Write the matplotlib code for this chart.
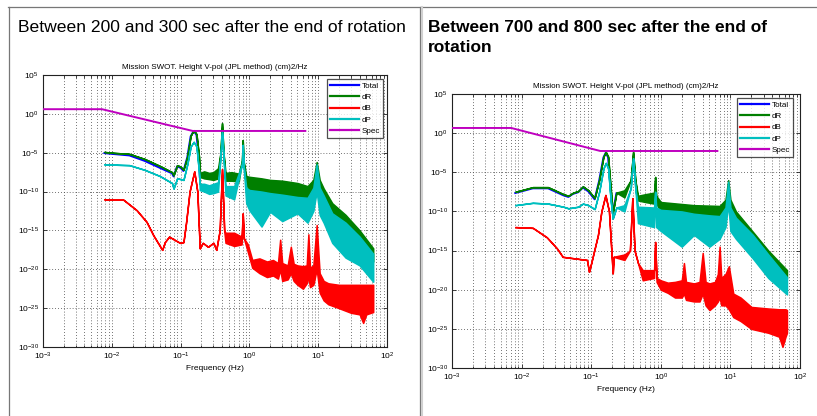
import numpy as np
import matplotlib
matplotlib.use("Agg")
from matplotlib import pyplot as plt
from matplotlib.lines import Line2D
from matplotlib.ticker import FixedLocator, LogLocator, NullLocator, NullFormatter

plt.rcParams['font.family'] = ['Liberation Sans', 'DejaVu Sans']
plt.rcParams['mathtext.fontset'] = 'custom'
plt.rcParams['mathtext.rm'] = 'Liberation Sans'
plt.rcParams['mathtext.it'] = 'Liberation Sans:italic'

# values are log10 of the PSD, frequencies in Hz; hi/lo = band envelope
# ---------- left panel: 200-300 s ----------
L_spec_f = [0.001, 0.0072, 0.15, 6.5]
L_spec = [0.6, 0.6, -2.2, -2.2]

# Total only shows where it peeks out under dR (low frequencies)
L_tot_f = [0.0078, 0.010, 0.018, 0.03, 0.05, 0.075, 0.079, 0.089, 0.10, 0.11, 0.125, 0.14, 0.155, 0.17, 0.185, 0.19]
L_tot = [-5.05, -5.15, -5.35, -6.05, -6.95, -7.65, -8.05, -6.75, -6.95, -7.35, -5.6, -2.9, -2.2, -2.7, -5.6, -8.1]

L_dR_f = [0.0078, 0.010, 0.018, 0.03, 0.05, 0.075, 0.079, 0.089, 0.10, 0.11, 0.125, 0.14, 0.155, 0.17, 0.185, 0.19, 0.22, 0.26, 0.30, 0.35, 0.38, 0.40, 0.42, 0.45, 0.55, 0.7, 0.78, 0.80, 0.82, 0.9, 1.0, 1.5, 2.0, 3.0, 5.0, 7.0, 8.5, 9.5, 10.5, 12.0, 16.0, 25.0, 40.0, 63.0]
L_dR_hi = [-4.9, -5.0, -5.15, -5.8, -6.7, -7.5, -7.9, -6.6, -6.8, -7.2, -5.5, -2.8, -2.1, -2.6, -5.5, -7.6, -7.4, -7.6, -7.5, -7.0, -5.0, -1.2, -5.0, -7.6, -7.5, -7.7, -6.0, -3.4, -6.0, -8.0, -8.1, -8.3, -8.5, -8.6, -8.9, -9.3, -8.5, -6.2, -8.5, -9.6, -11.5, -13.0, -15.0, -17.3]
L_dR_lo = [-4.9, -5.0, -5.15, -5.8, -6.7, -7.5, -7.9, -6.6, -6.8, -7.2, -5.5, -2.8, -2.1, -2.6, -5.5, -8.1, -8.3, -8.4, -8.5, -8.3, -5.0, -1.2, -5.0, -8.6, -8.6, -8.7, -6.0, -3.4, -6.0, -9.0, -10.0, -10.3, -10.5, -10.6, -10.8, -11.0, -10.0, -8.0, -10.5, -11.5, -13.0, -15.0, -17.0, -19.0]

L_dB_f = [0.0078, 0.0145, 0.023, 0.032, 0.040, 0.054, 0.059, 0.068, 0.098, 0.11, 0.12, 0.135, 0.158, 0.175, 0.19, 0.21, 0.25, 0.30, 0.33, 0.37, 0.40, 0.43, 0.45, 0.60, 0.77, 0.80, 0.83, 0.95, 1.1, 1.4, 1.8, 2.2, 2.6, 2.8, 3.0, 3.6, 4.0, 4.4, 5.0, 6.0, 6.8, 7.2, 7.6, 8.5, 9.5, 10.5, 12.0, 14.0, 20.0, 30.0, 40.0, 45.0, 50.0, 63.0]
L_dB_hi = [-11.0, -11.0, -12.4, -13.9, -15.6, -17.5, -16.5, -15.8, -16.6, -16.5, -14.0, -10.0, -7.4, -10.0, -17.3, -16.6, -17.1, -16.6, -17.5, -15.0, -7.1, -15.0, -15.3, -15.3, -15.8, -12.8, -16.0, -16.8, -18.8, -18.6, -19.0, -18.8, -19.2, -16.2, -19.2, -19.5, -17.1, -19.3, -19.5, -19.6, -19.5, -15.5, -19.8, -19.5, -14.3, -20.5, -21.5, -21.8, -22.0, -22.0, -22.0, -22.0, -22.0, -22.0]
L_dB_lo = [-11.0, -11.0, -12.4, -13.9, -15.6, -17.5, -16.5, -15.8, -16.6, -16.5, -14.0, -10.0, -7.4, -10.0, -17.3, -16.6, -17.1, -16.6, -17.5, -15.0, -7.1, -15.0, -16.6, -17.0, -16.8, -12.8, -16.0, -17.8, -19.8, -20.5, -21.0, -20.8, -21.2, -20.0, -21.5, -21.3, -20.5, -21.5, -22.0, -22.5, -21.8, -21.0, -22.3, -22.0, -20.0, -23.0, -24.0, -24.5, -25.0, -25.6, -25.8, -26.9, -25.8, -25.5]

L_dP_f = [0.0078, 0.018, 0.03, 0.05, 0.075, 0.079, 0.089, 0.10, 0.11, 0.125, 0.14, 0.155, 0.17, 0.185, 0.19, 0.22, 0.26, 0.30, 0.35, 0.38, 0.40, 0.42, 0.45, 0.60, 0.78, 0.80, 0.82, 0.9, 1.0, 1.5, 2.0, 3.0, 5.0, 7.0, 8.5, 9.5, 10.5, 12.0, 16.0, 25.0, 40.0, 63.0]
L_dP_hi = [-6.5, -6.6, -7.2, -8.0, -8.9, -9.6, -8.3, -8.4, -8.5, -6.5, -4.2, -3.6, -4.2, -7.5, -9.0, -9.0, -9.2, -9.0, -8.8, -5.5, -2.3, -5.5, -9.3, -9.3, -6.5, -4.0, -6.5, -9.5, -9.8, -10.0, -10.2, -10.4, -10.7, -10.8, -9.5, -6.5, -9.5, -10.5, -12.8, -14.0, -15.8, -18.0]
L_dP_lo = [-6.5, -6.6, -7.2, -8.0, -8.9, -9.6, -8.3, -8.4, -8.5, -6.5, -4.2, -3.6, -4.2, -7.5, -9.8, -10.0, -10.3, -10.2, -10.0, -5.5, -2.3, -5.5, -10.5, -11.0, -6.5, -4.0, -6.5, -11.5, -12.4, -14.5, -12.6, -13.8, -12.8, -14.0, -12.5, -10.0, -13.0, -14.0, -16.6, -18.5, -19.5, -21.6]

# ---------- right panel: 700-800 s ----------
R_spec_f = [0.001, 0.0071, 0.135, 6.5]
R_spec = [0.66, 0.66, -2.28, -2.28]

R_tot_f = [0.0081, 0.0145, 0.024, 0.040, 0.047, 0.055, 0.065, 0.076, 0.091, 0.112, 0.13, 0.15, 0.162, 0.175, 0.19, 0.204, 0.23]
R_tot = [-7.65, -7.05, -7.05, -7.95, -8.15, -7.75, -7.55, -6.95, -7.45, -8.45, -6.1, -3.1, -2.5, -3.1, -7.1, -10.3, -7.7]

R_dR_f = [0.0081, 0.0145, 0.024, 0.040, 0.047, 0.055, 0.065, 0.076, 0.091, 0.112, 0.13, 0.15, 0.162, 0.175, 0.19, 0.204, 0.23, 0.3, 0.37, 0.40, 0.43, 0.47, 0.6, 0.8, 0.83, 0.86, 1.0, 3.0, 7.0, 8.5, 9.3, 10.0, 12.0, 21.0, 35.0, 65.0]
R_dR_hi = [-7.5, -6.9, -6.9, -7.8, -8.0, -7.6, -7.4, -6.8, -7.3, -8.3, -6.0, -3.0, -2.4, -3.0, -7.0, -10.2, -7.6, -7.3, -6.0, -2.4, -6.0, -8.0, -7.8, -7.6, -5.6, -8.0, -8.8, -9.2, -9.3, -8.5, -6.0, -8.5, -10.0, -12.6, -15.0, -17.5]
R_dR_lo = [-7.5, -6.9, -6.9, -7.8, -8.0, -7.6, -7.4, -6.8, -7.3, -8.3, -6.0, -3.0, -2.4, -3.0, -7.0, -10.2, -7.6, -8.2, -6.0, -2.4, -6.0, -8.6, -8.8, -9.0, -5.6, -9.0, -10.0, -10.5, -10.8, -10.0, -8.0, -10.0, -11.5, -14.0, -16.5, -18.5]

R_dB_f = [0.0081, 0.0145, 0.023, 0.032, 0.039, 0.087, 0.093, 0.10, 0.125, 0.14, 0.16, 0.18, 0.204, 0.21, 0.30, 0.36, 0.39, 0.42, 0.47, 0.55, 0.80, 0.83, 0.87, 1.0, 1.26, 1.6, 2.0, 2.15, 2.3, 3.0, 3.6, 4.0, 4.4, 5.0, 6.0, 6.6, 7.0, 7.4, 8.5, 9.5, 11.0, 14.0, 20.0, 35.0, 50.0, 56.0, 62.0, 65.0]
R_dB_hi = [-12.0, -12.1, -13.3, -14.7, -15.8, -16.2, -17.7, -16.6, -13.0, -10.0, -7.9, -10.0, -17.9, -15.8, -15.5, -15.0, -8.3, -15.0, -16.6, -17.5, -17.5, -13.9, -18.5, -18.8, -19.1, -19.0, -18.8, -16.6, -19.0, -19.2, -19.0, -15.3, -19.0, -19.2, -19.0, -18.0, -14.5, -18.5, -18.0, -17.0, -20.5, -21.0, -22.2, -22.4, -22.5, -22.5, -22.5, -22.6]
R_dB_lo = [-12.0, -12.1, -13.3, -14.7, -15.8, -16.2, -17.7, -16.6, -13.0, -10.0, -7.9, -10.0, -17.9, -15.8, -16.2, -15.0, -8.3, -15.0, -16.6, -18.8, -18.5, -13.9, -19.0, -20.0, -20.4, -21.0, -21.0, -20.5, -21.3, -21.5, -21.5, -20.5, -22.0, -22.6, -22.0, -21.5, -21.0, -22.0, -22.0, -22.5, -23.5, -24.0, -25.0, -25.5, -26.0, -27.3, -26.0, -25.5]

R_dP_f = [0.0081, 0.0145, 0.024, 0.040, 0.047, 0.055, 0.065, 0.076, 0.091, 0.112, 0.13, 0.15, 0.162, 0.175, 0.19, 0.204, 0.23, 0.3, 0.37, 0.40, 0.43, 0.47, 0.8, 0.83, 0.86, 1.0, 2.0, 3.0, 5.0, 7.0, 8.5, 9.3, 10.0, 12.0, 21.0, 35.0, 65.0]
R_dP_hi = [-9.2, -8.9, -9.0, -9.4, -9.6, -9.5, -9.4, -9.0, -9.2, -9.7, -7.5, -4.5, -3.8, -4.5, -8.5, -10.9, -9.5, -9.2, -7.0, -3.2, -7.0, -9.4, -9.5, -7.5, -9.5, -9.8, -10.0, -10.3, -10.5, -10.6, -9.5, -6.2, -9.5, -10.8, -13.0, -15.5, -18.4]
R_dP_lo = [-9.2, -8.9, -9.0, -9.4, -9.6, -9.5, -9.4, -9.0, -9.2, -9.7, -7.5, -4.5, -3.8, -4.5, -8.5, -10.9, -9.5, -10.0, -7.0, -3.2, -7.0, -11.5, -12.0, -7.5, -12.0, -12.5, -14.5, -13.0, -14.5, -13.5, -12.0, -9.0, -12.5, -13.5, -16.0, -18.5, -20.6]

names = ['Total', 'dR', 'dB', 'dP', 'Spec']
colors = ['#0000ff', '#007f00', '#ff0000', '#00bfbf', '#bf00bf']

W, H = 817, 416
fig = plt.figure(figsize=(W / 100, H / 100), dpi=100)


def px_axes(x0, y0, x1, y1):
    return fig.add_axes([x0 / W, 1 - y1 / H, (x1 - x0) / W, (y1 - y0) / H])


def band(ax, f, hi, lo, c, z):
    ax.fill_between(f, 10.0 ** np.array(hi), 10.0 ** np.array(lo),
                    facecolor=c, edgecolor=c, lw=1.1, zorder=z)


def panel(ax, tot, dR, dB, dP, spec, leg_anchor):
    ax.set_axisbelow(True)
    ax.plot(tot[0], 10.0 ** np.array(tot[1]), color=colors[0], lw=1.4, zorder=2)
    band(ax, *dR, colors[1], 3)
    band(ax, *dB, colors[2], 4)
    band(ax, *dP, colors[3], 5)
    ax.plot(spec[0], 10.0 ** np.array(spec[1]), color=colors[4], lw=1.4, zorder=6)

    ax.set_xscale('log')
    ax.set_yscale('log')
    ax.set_xlim(1e-3, 1e2)
    ax.set_ylim(1e-30, 1e5)
    ax.yaxis.set_major_locator(FixedLocator([10.0 ** k for k in range(-30, 6, 5)]))
    ax.yaxis.set_minor_locator(NullLocator())
    ax.xaxis.set_major_locator(LogLocator(base=10, numticks=10))
    ax.xaxis.set_minor_locator(LogLocator(base=10, subs=np.arange(2, 10), numticks=10))
    ax.xaxis.set_minor_formatter(NullFormatter())
    ax.tick_params(which='both', direction='in', top=True, right=True,
                   labelsize=6, width=0.6, color='#222222', pad=3)
    ax.tick_params(which='major', length=3)
    ax.tick_params(which='minor', length=1.8)
    ax.grid(True, which='major', ls=(0, (1, 2.5)), lw=0.6, color='#444444')
    ax.grid(True, which='minor', axis='x', ls=(0, (1, 2.5)), lw=0.6, color='#444444')
    for s in ax.spines.values():
        s.set_linewidth(0.8)
        s.set_color('#222222')
    ax.set_title('Mission SWOT. Height V-pol (JPL method) (cm)2/Hz', fontsize=5.8, pad=4)
    ax.set_xlabel('Frequency (Hz)', fontsize=6, labelpad=2)
    handles = [Line2D([], [], color=c, lw=1.6) for c in colors]
    lg = ax.legend(handles, names, loc='upper right', bbox_to_anchor=leg_anchor,
                   fontsize=5.8, frameon=True, fancybox=False, borderaxespad=0,
                   handlelength=3.6, handletextpad=0.3, labelspacing=0.45,
                   borderpad=0.4)
    lg.get_frame().set_edgecolor('#222222')
    lg.get_frame().set_linewidth(0.9)
    lg.set_zorder(10)


axL = px_axes(43, 75, 387, 347)
panel(axL, (L_tot_f, L_tot), (L_dR_f, L_dR_hi, L_dR_lo), (L_dB_f, L_dB_hi, L_dB_lo),
      (L_dP_f, L_dP_hi, L_dP_lo), (L_spec_f, L_spec),
      ((383 - 43) / 344, 1 - (79 - 75) / 272))

axR = px_axes(452, 94, 800, 368)
panel(axR, (R_tot_f, R_tot), (R_dR_f, R_dR_hi, R_dR_lo), (R_dB_f, R_dB_hi, R_dB_lo),
      (R_dP_f, R_dP_hi, R_dP_lo), (R_spec_f, R_spec),
      ((793 - 452) / 348, 1 - (98 - 94) / 274))


# slide table frame
def hline(y, x0, x1, c, lw):
    fig.add_artist(Line2D([x0 / W, x1 / W], [1 - y / H, 1 - y / H], color=c, lw=lw))


def vline(x, y0, y1, c, lw):
    fig.add_artist(Line2D([x / W, x / W], [1 - y0 / H, 1 - y1 / H], color=c, lw=lw))


hline(7, 8, W, '#777777', 0.9)
vline(8.5, 7, H, '#777777', 0.9)
vline(420, 7, H, '#777777', 0.9)
vline(422, 7, H, '#d0d0d0', 1.5)

fig.text(18 / W, 1 - 28 / H, 'Between 200 and 300 sec after the end of rotation',
         fontsize=12.6, va='center', ha='left')
fig.text(428 / W, 1 - 28 / H, 'Between 700 and 800 sec after the end of',
         fontsize=12.5, fontweight='bold', va='center', ha='left')
fig.text(428 / W, 1 - 47.5 / H, 'rotation',
         fontsize=12.5, fontweight='bold', va='center', ha='left')

fig.savefig('out.png', dpi=100)
